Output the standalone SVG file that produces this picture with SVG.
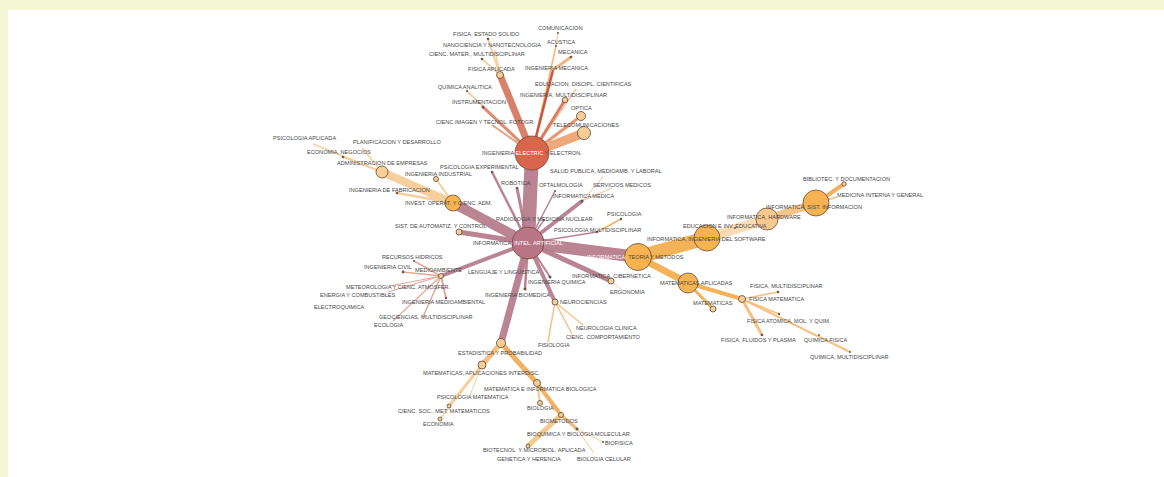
<svg xmlns="http://www.w3.org/2000/svg" width="1164" height="477" viewBox="0 0 1164 477">
<style>
.t{font-family:"Liberation Sans",Arial,sans-serif;font-size:5.6px;fill:#474747}
.w{fill:#ffffff}
.e{fill:none;stroke-linecap:butt}
.m{stroke:#b47a89;stroke-opacity:0.92}
.o{stroke:#f4b259}
.p{stroke:#f6cf9c}
.r{stroke:#d9806a}
.hub{stroke:#6e4a3e;stroke-width:0.8}
.sm{fill:#f7cf96;stroke:#5a4a3a;stroke-width:0.8}
.dot{fill:#6a5a4a}
</style>
<rect x="0" y="0" width="1164" height="477" fill="#f5f7d2"/>
<rect x="8" y="10" width="1156" height="467" fill="#ffffff"/>
<g id="connectors">
<line class="e p" x1="500" y1="75" x2="488" y2="39" stroke-width="2"/>
<line class="e p" x1="500" y1="75" x2="495" y2="50" stroke-width="1.5"/>
<line class="e p" x1="500" y1="75" x2="482" y2="59" stroke-width="1.8"/>
<line class="e r" x1="532" y1="153" x2="500" y2="75" stroke-width="7"/>
<line class="e" stroke="#f2b678" x1="532" y1="153" x2="556" y2="46" stroke-width="1.5"/>
<line class="e" stroke="#f2c090" x1="556" y1="46" x2="558" y2="33" stroke-width="1"/>
<line class="e" stroke="#c8553d" x1="532" y1="153" x2="553" y2="70" stroke-width="2.5"/>
<line class="e" stroke="#f2b680" x1="553" y1="70" x2="571" y2="57" stroke-width="3"/>
<line class="e" stroke="#f5cda8" x1="532" y1="153" x2="467" y2="91" stroke-width="2"/>
<line class="e" stroke="#e08a70" x1="532" y1="153" x2="483" y2="107" stroke-width="3"/>
<line class="e" stroke="#e8a080" x1="532" y1="153" x2="492" y2="125" stroke-width="2"/>
<line class="e" stroke="#f0c4a0" x1="532" y1="153" x2="576" y2="89" stroke-width="1.5"/>
<line class="e" stroke="#dd7a60" x1="532" y1="153" x2="565" y2="100" stroke-width="3"/>
<line class="e" stroke="#e89870" x1="532" y1="153" x2="581" y2="116" stroke-width="3"/>
<line class="e" stroke="#f0a878" x1="532" y1="153" x2="584" y2="133" stroke-width="9"/>
<line class="e m" x1="532" y1="153" x2="528" y2="243" stroke-width="14"/>
<line class="e p" x1="453" y1="203" x2="382" y2="172" stroke-width="8"/>
<line class="e p" x1="453" y1="203" x2="436" y2="179" stroke-width="2"/>
<line class="e p" x1="453" y1="203" x2="397" y2="193" stroke-width="2.5"/>
<line class="e p" x1="382" y1="172" x2="362" y2="148" stroke-width="1.5"/>
<line class="e p" x1="382" y1="172" x2="343" y2="157" stroke-width="2"/>
<line class="e p" x1="382" y1="172" x2="313" y2="144" stroke-width="1.5"/>
<line class="e m" x1="528" y1="243" x2="453" y2="203" stroke-width="10"/>
<line class="e m" x1="528" y1="243" x2="459" y2="232" stroke-width="5"/>
<line class="e m" x1="528" y1="243" x2="492" y2="172" stroke-width="2.5"/>
<line class="e m" x1="528" y1="243" x2="517" y2="188" stroke-width="3"/>
<line class="e m" x1="528" y1="243" x2="555" y2="191" stroke-width="1.5"/>
<line class="e m" x1="528" y1="243" x2="582" y2="201" stroke-width="4"/>
<line class="e m" x1="528" y1="243" x2="544" y2="220" stroke-width="1.5"/>
<line class="e m" x1="528" y1="243" x2="597" y2="232" stroke-width="1.5"/>
<line class="e" stroke="#f2c090" x1="582" y1="201" x2="603" y2="177" stroke-width="1"/>
<line class="e" stroke="#f2c090" x1="582" y1="201" x2="612" y2="188" stroke-width="1"/>
<line class="e" stroke="#f0b070" x1="597" y1="232" x2="621" y2="219" stroke-width="1.5"/>
<line class="e m" x1="528" y1="243" x2="441" y2="276" stroke-width="4"/>
<line class="e m" x1="528" y1="243" x2="520" y2="270" stroke-width="1.5"/>
<line class="e m" x1="528" y1="243" x2="550" y2="277" stroke-width="2"/>
<line class="e m" x1="528" y1="243" x2="525" y2="289" stroke-width="2.5"/>
<line class="e m" x1="528" y1="243" x2="611" y2="281" stroke-width="5"/>
<line class="e m" x1="528" y1="243" x2="555" y2="302" stroke-width="4"/>
<line class="e m" x1="528" y1="243" x2="501" y2="343" stroke-width="7"/>
<line class="e" stroke="#f5d0b0" x1="611" y1="281" x2="622" y2="290" stroke-width="1"/>
<line class="e" stroke="#f5c28a" x1="555" y1="302" x2="583" y2="325" stroke-width="1.5"/>
<line class="e" stroke="#f5c28a" x1="555" y1="302" x2="572" y2="334" stroke-width="1.5"/>
<line class="e" stroke="#f5c28a" x1="555" y1="302" x2="548" y2="342" stroke-width="1.5"/>
<line class="e" stroke="#e5a898" x1="441" y1="276" x2="414" y2="261" stroke-width="1.5"/>
<line class="e" stroke="#e5a898" x1="441" y1="276" x2="403" y2="272" stroke-width="1.5"/>
<line class="e" stroke="#e5a898" x1="441" y1="276" x2="390" y2="286" stroke-width="1.2"/>
<line class="e" stroke="#e5a898" x1="441" y1="276" x2="388" y2="292" stroke-width="1.2"/>
<line class="e" stroke="#e5a898" x1="441" y1="276" x2="446" y2="298" stroke-width="2"/>
<line class="e" stroke="#e5a898" x1="441" y1="276" x2="423" y2="317" stroke-width="1.5"/>
<line class="e" stroke="#e5a898" x1="441" y1="276" x2="393" y2="321" stroke-width="1.2"/>
<line class="e" stroke="#f5c080" x1="501" y1="343" x2="482" y2="365" stroke-width="5"/>
<line class="e" stroke="#f2b060" x1="501" y1="343" x2="537" y2="383" stroke-width="5"/>
<line class="e p" x1="482" y1="365" x2="449" y2="406" stroke-width="3"/>
<line class="e p" x1="482" y1="365" x2="470" y2="395" stroke-width="1"/>
<line class="e p" x1="482" y1="365" x2="440" y2="419" stroke-width="1.5"/>
<line class="e" stroke="#f5c890" x1="537" y1="383" x2="540" y2="403" stroke-width="2"/>
<line class="e" stroke="#f2b060" x1="537" y1="383" x2="561" y2="415" stroke-width="4"/>
<line class="e" stroke="#f2b878" x1="561" y1="415" x2="577" y2="429" stroke-width="3"/>
<line class="e" stroke="#f5c890" x1="577" y1="429" x2="603" y2="442" stroke-width="1"/>
<line class="e" stroke="#f5c890" x1="577" y1="429" x2="594" y2="453" stroke-width="1"/>
<line class="e" stroke="#f6c88a" x1="561" y1="415" x2="528" y2="446" stroke-width="5"/>
<line class="e m" x1="528" y1="243" x2="638" y2="257" stroke-width="12"/>
<line class="e o" x1="638" y1="257" x2="707" y2="238" stroke-width="14"/>
<line class="e o" x1="638" y1="257" x2="688" y2="283" stroke-width="7"/>
<line class="e" stroke="#f9dcb8" x1="707" y1="238" x2="767" y2="219" stroke-width="10"/>
<line class="e" stroke="#f8d5a8" x1="707" y1="238" x2="735" y2="228" stroke-width="2"/>
<line class="e" stroke="#f5c488" x1="767" y1="219" x2="816" y2="203" stroke-width="8"/>
<line class="e" stroke="#f3b060" x1="816" y1="203" x2="844" y2="184" stroke-width="4"/>
<line class="e" stroke="#f3b870" x1="816" y1="203" x2="837" y2="197" stroke-width="1.5"/>
<line class="e o" x1="688" y1="283" x2="742" y2="299" stroke-width="4"/>
<line class="e o" x1="688" y1="283" x2="713" y2="309" stroke-width="3"/>
<line class="e" stroke="#f5c080" x1="742" y1="299" x2="778" y2="292" stroke-width="1.5"/>
<line class="e" stroke="#f5c080" x1="742" y1="299" x2="779" y2="314" stroke-width="1.5"/>
<line class="e" stroke="#f5c080" x1="742" y1="299" x2="762" y2="335" stroke-width="3"/>
<line class="e" stroke="#f5c080" x1="742" y1="299" x2="850" y2="352" stroke-width="2"/>
</g>
<g id="n-electric"><circle class="hub" cx="532" cy="153" r="17" fill="#d9654d"/></g>
<g id="n-ia"><circle class="hub" cx="528" cy="243" r="16" fill="#b87585"/></g>
<g id="n-teoria"><circle class="hub" cx="638" cy="257" r="13.5" fill="#f6b350"/></g>
<g id="n-software"><circle class="hub" cx="707" cy="238" r="13" fill="#f6b350"/></g>
<g id="n-hardware"><circle class="hub" cx="767" cy="219" r="11" fill="#f7c98e"/></g>
<g id="n-sistinfo"><circle class="hub" cx="816" cy="203" r="13" fill="#f6b350"/></g>
<g id="n-mataplic"><circle class="hub" cx="688" cy="283" r="10" fill="#f6b350"/></g>
<g id="n-invop"><circle class="hub" cx="453" cy="203" r="8" fill="#f6b350"/></g>
<g id="n-admin"><circle class="sm" cx="382" cy="172" r="6"/></g>
<g id="n-telecom"><circle class="sm" cx="584" cy="133" r="6.5"/></g>
<g id="n-optica"><circle class="sm" cx="581" cy="116" r="4.5"/></g>
<g id="n-ingmulti"><circle class="sm" cx="565" cy="100" r="2.8"/></g>
<g id="n-fisaplic"><circle class="sm" cx="500" cy="75" r="3.5"/></g>
<g id="n-estad"><circle class="sm" cx="501" cy="343" r="4.5"/></g>
<g id="n-matinter"><circle class="sm" cx="482" cy="365" r="4"/></g>
<g id="n-matbio"><circle class="sm" cx="537" cy="383" r="3.5"/></g>
<g id="n-neuro"><circle class="sm" cx="555" cy="302" r="3"/></g>
<g id="n-ciber"><circle class="sm" cx="611" cy="281" r="3"/></g>
<g id="n-sac"><circle class="sm" cx="459" cy="232" r="3"/></g>
<g id="n-matem"><circle class="sm" cx="713" cy="309" r="3"/></g>
<g id="n-fismat"><circle class="sm" cx="742" cy="299" r="3.5"/></g>
<g id="n-ingind"><circle class="sm" cx="436" cy="179" r="2.5"/></g>
<g id="n-medamb"><circle class="sm" cx="441" cy="276" r="2.5"/></g>
<g id="n-biol"><circle class="sm" cx="540" cy="403" r="2.5"/></g>
<g id="n-biomet"><circle class="sm" cx="561" cy="415" r="2.5"/></g>
<g id="n-csm"><circle class="sm" cx="449" cy="406" r="2"/></g>
<g id="n-econ"><circle class="sm" cx="440" cy="419" r="2"/></g>
<g id="n-biotec"><circle class="sm" cx="528" cy="446" r="2"/></g>
<g id="n-bibl"><circle class="sm" cx="844" cy="184" r="2.2"/></g>
<g id="n-small">
<circle class="dot" cx="488" cy="39" r="1.3"/><circle class="dot" cx="482" cy="59" r="1.3"/><circle class="dot" cx="558" cy="33" r="1"/><circle class="dot" cx="556" cy="46" r="1"/><circle class="dot" cx="571" cy="57" r="1.3"/><circle class="dot" cx="467" cy="91" r="1.1"/><circle class="dot" cx="483" cy="107" r="1.5"/><circle class="dot" cx="492" cy="172" r="1.3"/><circle class="dot" cx="517" cy="188" r="1.2"/><circle class="dot" cx="555" cy="191" r="1"/><circle class="dot" cx="582" cy="201" r="1.6"/><circle class="dot" cx="544" cy="220" r="1"/><circle class="dot" cx="621" cy="219" r="1.2"/><circle class="dot" cx="597" cy="232" r="1.2"/><circle class="dot" cx="397" cy="193" r="1.3"/><circle class="dot" cx="343" cy="157" r="1.3"/><circle class="dot" cx="414" cy="261" r="1"/><circle class="dot" cx="403" cy="272" r="1.4"/><circle class="dot" cx="446" cy="298" r="1.2"/><circle class="dot" cx="550" cy="277" r="1.5"/><circle class="dot" cx="525" cy="289" r="1.5"/><circle class="dot" cx="735" cy="228" r="1"/><circle class="dot" cx="778" cy="292" r="1.3"/><circle class="dot" cx="779" cy="314" r="1.2"/><circle class="dot" cx="762" cy="335" r="1.3"/><circle class="dot" cx="819" cy="335" r="1"/><circle class="dot" cx="850" cy="352" r="1"/><circle class="dot" cx="577" cy="429" r="1.5"/><circle class="dot" cx="603" cy="442" r="1"/>
</g>
<g id="labels">
<text class="t" x="453" y="36">FISICA, ESTADO SOLIDO</text>
<text class="t" x="538" y="30">COMUNICACION</text>
<text class="t" x="443" y="47">NANOCIENCIA Y NANOTECNOLOGIA</text>
<text class="t" x="547" y="44">ACUSTICA</text>
<text class="t" x="429" y="56">CIENC. MATER., MULTIDISCIPLINAR</text>
<text class="t" x="558" y="54">MECANICA</text>
<text class="t" x="468" y="71">FISICA APLICADA</text>
<text class="t" x="525" y="70">INGENIERIA MECANICA</text>
<text class="t" x="438" y="89">QUIMICA ANALITICA</text>
<text class="t" x="535" y="86">EDUCACION, DISCIPL. CIENTIFICAS</text>
<text class="t" x="452" y="104">INSTRUMENTACION</text>
<text class="t" x="520" y="97">INGENIERIA, MULTIDISCIPLINAR</text>
<text class="t" x="571" y="110">OPTICA</text>
<text class="t" x="436" y="124">CIENC.IMAGEN Y TECNOL. FOTOGR.</text>
<text class="t" x="553" y="127">TELECOMUNICACIONES</text>
<text class="t" x="482" y="155">INGENIERIA <tspan class="w">ELECTRIC</tspan> Y ELECTRON.</text>
<text class="t" x="273" y="140">PSICOLOGIA APLICADA</text>
<text class="t" x="353" y="144">PLANIFICACION Y DESARROLLO</text>
<text class="t" x="307" y="154">ECONOMIA, NEGOCIOS</text>
<text class="t" x="337" y="165">ADMINISTRACION DE EMPRESAS</text>
<text class="t" x="440" y="169">PSICOLOGIA EXPERIMENTAL</text>
<text class="t" x="405" y="176">INGENIERIA INDUSTRIAL</text>
<text class="t" x="550" y="173">SALUD PUBLICA, MEDIOAMB. Y LABORAL</text>
<text class="t" x="501" y="185">ROBOTICA</text>
<text class="t" x="539" y="187">OFTALMOLOGIA</text>
<text class="t" x="593" y="187">SERVICIOS MEDICOS</text>
<text class="t" x="349" y="192">INGENIERIA DE FABRICACION</text>
<text class="t" x="553" y="198">INFORMATICA MEDICA</text>
<text class="t" x="405" y="205">INVEST. OPERAT. Y CIENC. ADM.</text>
<text class="t" x="496" y="221">RADIOLOGIA Y MEDICINA NUCLEAR</text>
<text class="t" x="607" y="216">PSICOLOGIA</text>
<text class="t" x="395" y="228">SIST. DE AUTOMATIZ. Y CONTROL</text>
<text class="t" x="554" y="232">PSICOLOGIA MULTIDISCIPLINAR</text>
<text class="t" x="473" y="245">INFORMATICA, <tspan class="w">INTEL. ARTIFICIAL</tspan></text>
<text class="t" x="587" y="259"><tspan class="w">INFORMATICA,</tspan> TEORIA Y METODOS</text>
<text class="t" x="647" y="241">INFORMATICA, INGENIERIA DEL SOFTWARE</text>
<text class="t" x="683" y="228">EDUCACION E INV. EDUCATIVA</text>
<text class="t" x="727" y="219">INFORMATICA, HARDWARE</text>
<text class="t" x="766" y="209">INFORMATICA, SIST. INFORMACION</text>
<text class="t" x="803" y="181">BIBLIOTEC. Y DOCUMENTACION</text>
<text class="t" x="837" y="197">MEDICINA INTERNA Y GENERAL</text>
<text class="t" x="660" y="285">MATEMATICAS APLICADAS</text>
<text class="t" x="693" y="305">MATEMATICAS</text>
<text class="t" x="749" y="301">FISICA MATEMATICA</text>
<text class="t" x="750" y="288">FISICA, MULTIDISCIPLINAR</text>
<text class="t" x="747" y="323">FISICA ATOMICA, MOL. Y QUIM.</text>
<text class="t" x="721" y="342">FISICA, FLUIDOS Y PLASMA</text>
<text class="t" x="804" y="342">QUIMICA FISICA</text>
<text class="t" x="810" y="359">QUIMICA, MULTIDISCIPLINAR</text>
<text class="t" x="382" y="259">RECURSOS HIDRICOS</text>
<text class="t" x="364" y="269">INGENIERIA CIVIL</text>
<text class="t" x="415" y="272">MEDIOAMBIENTE</text>
<text class="t" x="468" y="274">LENGUAJE Y LINGUISTICA</text>
<text class="t" x="572" y="278">INFORMATICA, CIBERNETICA</text>
<text class="t" x="528" y="284">INGENIERIA QUIMICA</text>
<text class="t" x="346" y="289">METEOROLOGIA Y CIENC. ATMOSFER.</text>
<text class="t" x="610" y="294">ERGONOMIA</text>
<text class="t" x="320" y="297">ENERGIA Y COMBUSTIBLES</text>
<text class="t" x="485" y="297">INGENIERIA BIOMEDICA</text>
<text class="t" x="402" y="304">INGENIERIA MEDIOAMBIENTAL</text>
<text class="t" x="560" y="304">NEUROCIENCIAS</text>
<text class="t" x="314" y="309">ELECTROQUIMICA</text>
<text class="t" x="379" y="319">GEOCIENCIAS, MULTIDISCIPLINAR</text>
<text class="t" x="374" y="327">ECOLOGIA</text>
<text class="t" x="576" y="330">NEUROLOGIA CLINICA</text>
<text class="t" x="566" y="339">CIENC. COMPORTAMIENTO</text>
<text class="t" x="538" y="347">FISIOLOGIA</text>
<text class="t" x="458" y="355">ESTADISTICA Y PROBABILIDAD</text>
<text class="t" x="423" y="375">MATEMATICAS, APLICACIONES INTERDISC.</text>
<text class="t" x="484" y="391">MATEMATICA E INFORMATICA BIOLOGICA</text>
<text class="t" x="437" y="399">PSICOLOGIA MATEMATICA</text>
<text class="t" x="527" y="410">BIOLOGIA</text>
<text class="t" x="398" y="413">CIENC. SOC., MET. MATEMATICOS</text>
<text class="t" x="540" y="423">BIOMETODOS</text>
<text class="t" x="423" y="426">ECONOMIA</text>
<text class="t" x="527" y="436">BIOQUIMICA Y BIOLOGIA MOLECULAR</text>
<text class="t" x="605" y="445">BIOFISICA</text>
<text class="t" x="483" y="452">BIOTECNOL. Y MICROBIOL. APLICADA</text>
<text class="t" x="497" y="461">GENETICA Y HERENCIA</text>
<text class="t" x="577" y="461">BIOLOGIA CELULAR</text>
</g>
</svg>
